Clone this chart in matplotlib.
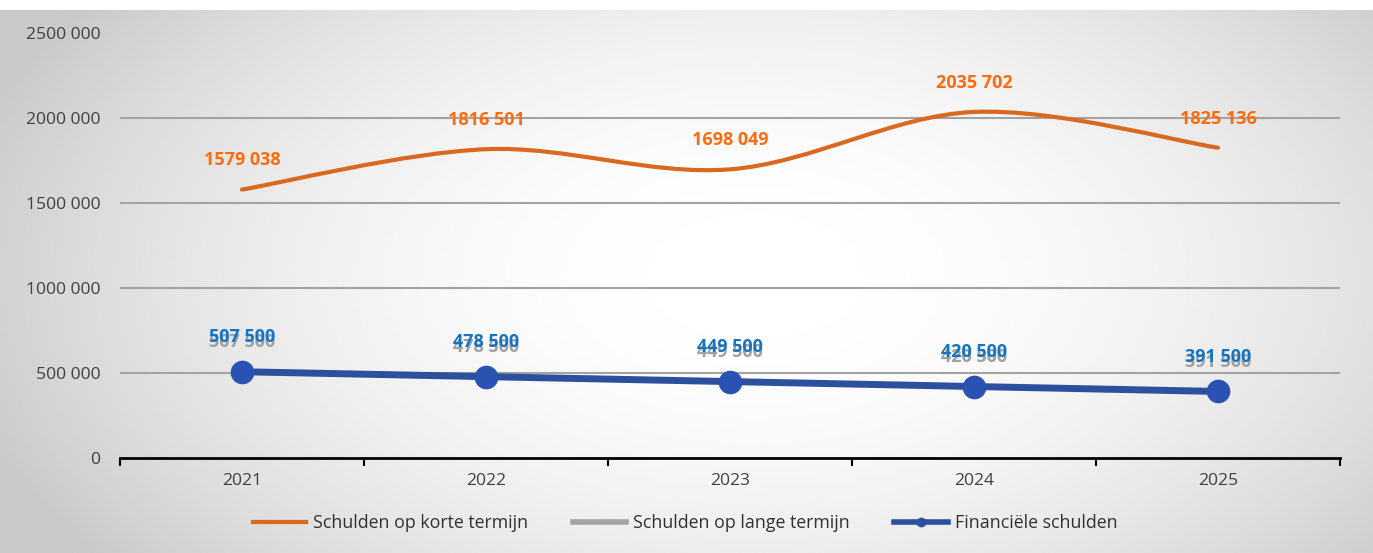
import numpy as np
import matplotlib.pyplot as plt
from matplotlib.path import Path
from matplotlib.patches import PathPatch, Rectangle
from matplotlib.lines import Line2D


years = ['2021', '2022', '2023', '2024', '2025']
korte = [1579038, 1816501, 1698049, 2035702, 1825136]
lange = [507500, 478500, 449500, 420500, 391500]
financiele = [507500, 478500, 449500, 420500, 391500]
y_ticks = [0, 500000, 1000000, 1500000, 2000000, 2500000]
y_tick_labels = ['0', '500 000', '1000 000', '1500 000', '2000 000', '2500 000']
names = ['Schulden op korte termijn', 'Schulden op lange termijn', 'Financiële schulden']

c_orange = '#d8691f'
c_orange_txt = '#ff6a0d'
c_gray = '#a3a3a3'
c_blue = '#2c4f9e'
c_blue_txt = '#1374c4'


def fmt(v):
    s = str(v)
    return s[:-3] + ' ' + s[-3:]


def smooth_path(xs, ys):
    # catmull-rom -> bezier, like excel's smoothed line
    pts = np.column_stack([xs, ys]).astype(float)
    n = len(pts)
    verts = [pts[0]]
    codes = [Path.MOVETO]
    for i in range(n - 1):
        p0 = pts[i - 1] if i > 0 else pts[i]
        p1 = pts[i]
        p2 = pts[i + 1]
        p3 = pts[i + 2] if i + 2 < n else pts[i + 1]
        verts += [p1 + (p2 - p0) / 6, p2 - (p3 - p1) / 6, p2]
        codes += [Path.CURVE4] * 3
    return Path(verts, codes)


plt.rcParams['font.family'] = ['Open Sans', 'DejaVu Sans']

fig = plt.figure(figsize=(13.73, 5.53), dpi=100)

# greyish scanned background, lighter in the middle
bg = fig.add_axes([0, 0, 1, 1], zorder=-10)
yy, xx = np.mgrid[0:1:200j, 0:1:400j]
r = np.sqrt(((xx - 0.55) / 0.6) ** 2 + ((yy - 0.5) / 0.85) ** 2)
val = 1 - 0.21 * np.clip(r, 0, 1) ** 2
bg.imshow(val, cmap='gray', vmin=0, vmax=1, aspect='auto', extent=[0, 1, 0, 1])
bg.add_patch(Rectangle((0, 0.982), 1, 0.02, color='white', lw=0))
bg.set_xlim(0, 1)
bg.set_ylim(0, 1)
bg.axis('off')

ax = fig.add_axes([120 / 1373, 95 / 553, 1220 / 1373, 425 / 553])
ax.set_facecolor('none')
x = np.arange(len(years))
ax.set_xlim(-0.5, len(years) - 0.5)
ax.set_ylim(0, 2500000)

for yv in y_ticks[1:-1]:
    ax.axhline(yv, color=c_gray, lw=1.5, zorder=1)

ax.set_yticks(y_ticks, y_tick_labels)
ax.tick_params(axis='y', length=0, pad=14, labelsize=12.6, labelcolor='#404040')
ax.set_xticks(x, years)
ax.set_xticks(np.arange(-0.5, len(years)), minor=True)
ax.tick_params(axis='x', which='major', length=0, pad=11, labelsize=12.6, labelcolor='#404040')
ax.tick_params(axis='x', which='minor', length=6, width=1.5, color='black')
for s in ['top', 'right', 'left']:
    ax.spines[s].set_visible(False)
ax.spines['bottom'].set_linewidth(2)

#lines
ax.add_patch(PathPatch(smooth_path(x, korte), fill=False, edgecolor=c_orange,
                       lw=3, capstyle='round', zorder=3))
ax.plot(x, lange, color=c_gray, lw=3, zorder=3)
ax.plot(x, financiele, color=c_blue, lw=5, marker='o', ms=16,
        mfc='#2a52b2', mec='#2a52b2', zorder=4)

#data labels (grey ones sit just under the blue ones, as in the original)
for xi, v in zip(x, korte):
    ax.annotate(fmt(v), (xi, v), xytext=(0, 21), textcoords='offset points',
                ha='center', va='center', fontsize=13, fontweight='bold', color=c_orange_txt)
for xi, v in zip(x, lange):
    ax.annotate(fmt(v), (xi, v), xytext=(0, 21.5), textcoords='offset points',
                ha='center', va='center', fontsize=13, fontweight='bold', color='#a0a0a0')
for xi, v in zip(x, financiele):
    ax.annotate(fmt(v), (xi, v), xytext=(0, 25), textcoords='offset points',
                ha='center', va='center', fontsize=13, fontweight='bold', color=c_blue_txt)

handles = [Line2D([], [], color=c_orange, lw=3),
           Line2D([], [], color=c_gray, lw=4),
           Line2D([], [], color=c_blue, lw=4, marker='o', ms=6)]
fig.legend(handles, names, loc='center', bbox_to_anchor=(685 / 1373, 1 - 523 / 553),
           ncol=3, frameon=False, fontsize=12.8, handlelength=3.0, handletextpad=0.4,
           columnspacing=2.5, labelcolor='#303030')

fig.savefig('out.png', dpi=100)
